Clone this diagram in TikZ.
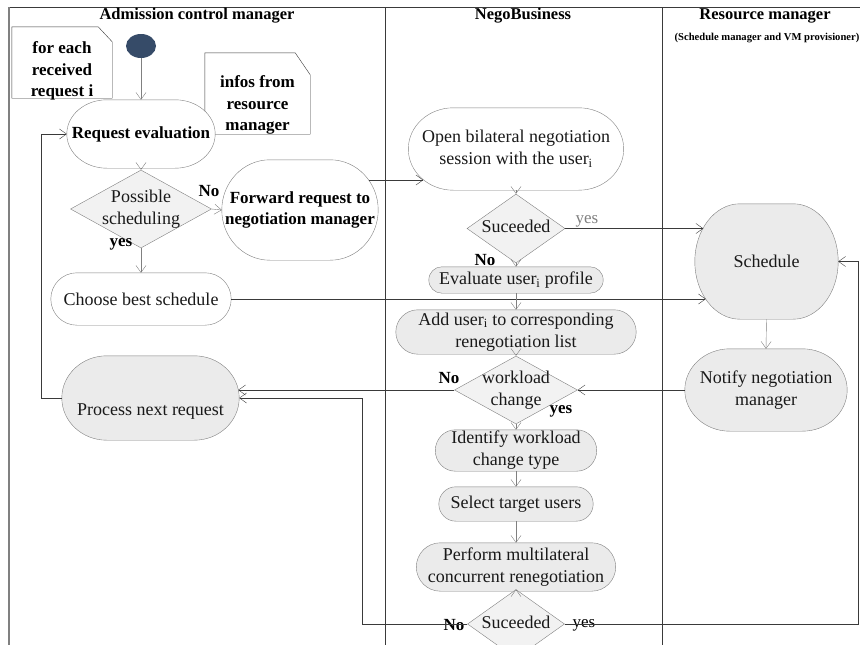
\documentclass[tikz,border=0pt]{standalone}
\usepackage{fontspec}
\setmainfont{Liberation Serif}
\usetikzlibrary{arrows.meta,calc,shapes.geometric,backgrounds}

\definecolor{edgegray}{HTML}{808080}
\definecolor{boxgray}{HTML}{EBEBEB}
\definecolor{diagray}{HTML}{F2F2F2}
\definecolor{linedark}{HTML}{3A3A3A}
\definecolor{startblue}{HTML}{364B68}

% text lines whose box takes no height, so that shapes keep their set size
\newcommand{\lowered}[2]{\raisebox{#1}[0pt][0pt]{\begin{tabular}{@{}c@{}}#2\end{tabular}}}

% rounded box with elliptical corners around a named node
\newcommand{\ovalbox}[3]{%
  \path[draw=edgegray, fill=#3] let \p1=(#1.north west), \p2=(#1.south east) in
    (\x1+#2pt,\y1) -- (\x2-#2pt,\y1)
    arc[start angle=90, end angle=-90, x radius=#2pt, y radius={(\y1-\y2)/2}]
    -- (\x1+#2pt,\y2)
    arc[start angle=270, end angle=90, x radius=#2pt, y radius={(\y1-\y2)/2}] -- cycle;}

% note with a cut top-right corner around a named node
\newcommand{\notebox}[3]{%
  \path[draw=linedark, fill=white] (#1.north west) -- ([xshift=-#2pt]#1.north east)
    -- ([yshift=-#3pt]#1.north east) -- (#1.south east) -- (#1.south west) -- cycle;}

\tikzset{
  txt/.style={font=\fontsize{18}{22}\selectfont, align=center, text=black!90},
  btxt/.style={font=\fontsize{17}{21.5}\selectfont\bfseries, align=center, text=black},
  hdr/.style={font=\fontsize{16.5}{20}\selectfont\bfseries, inner sep=0pt},
  act/.style={rectangle, inner sep=0pt, txt},
  dec/.style={diamond, draw=edgegray, fill=diagray, inner sep=0pt, txt},
  flow/.style={draw=edgegray, -{Straight Barb[length=7pt,width=10pt]}},
  link/.style={draw=linedark, -{Straight Barb[length=7pt,width=10pt]}},
  lbl/.style={font=\fontsize{17}{20}\selectfont\bfseries, inner sep=0pt},
  lbln/.style={font=\fontsize{17}{20}\selectfont, inner sep=0pt},
}

\begin{document}
\begin{tikzpicture}[x=1pt,y=-1pt]
\useasboundingbox (0,0) rectangle (860,645);

% lane titles
\node[hdr] (h1) at (197,16) {Admission control manager};
\node[hdr] (h2) at (523,16) {NegoBusiness};
\node[hdr] (h3) at (765,16) {Resource manager};
\node[font=\fontsize{10.6}{12}\selectfont\bfseries, inner sep=0pt] (h3s) at (767,38)
  {(Schedule manager and VM provisioner)};

% notes
\node[btxt, minimum width=100pt, minimum height=71pt, inner sep=0pt] (n1) at (62,62.5)
  {\lowered{-13pt}{for each\\received\\request i}};
\node[btxt, minimum width=105pt, minimum height=81pt, inner sep=0pt] (n2) at (257.5,93.5)
  {\lowered{-16pt}{infos from\\resource\\manager}};

% admission control lane
\node[ellipse, fill=startblue, minimum width=30pt, minimum height=24pt, inner sep=0pt] (start) at (141,46) {};
\node[act, btxt, minimum width=148pt, minimum height=68pt] (req) at (141,134) {Request evaluation};
\node[dec, minimum width=141pt, minimum height=62pt] (poss) at (141,209) {\lowered{-4pt}{Possible\\scheduling}};
\node[act, btxt, minimum width=156pt, minimum height=100pt] (fwd) at (300,210) {Forward request to\\negotiation manager};
\node[act, minimum width=180pt, minimum height=52pt] (choose) at (141,299) {Choose best schedule};
\node[act, minimum width=177pt, minimum height=84pt] (proc) at (150.5,398) {\raisebox{-17pt}[0pt][0pt]{Process next request}};

% negotiation lane
\node[act, minimum width=215pt, minimum height=82pt] (open) at (516,149) {Open bilateral negotiation\\session with the user\textsubscript{i}};
\node[dec, minimum width=98pt, minimum height=49pt] (suc1) at (516,228.5) {\lowered{-4pt}{Suceeded}};
\node[act, minimum width=174pt, minimum height=26pt] (eval) at (516,280) {Evaluate user\textsubscript{i} profile};
\node[act, minimum width=240pt, minimum height=44pt] (add) at (516,332) {Add user\textsubscript{i} to corresponding\\renegotiation list};
\node[dec, minimum width=123pt, minimum height=50pt] (wl) at (516,390) {\lowered{-4pt}{workload\\change}};
\node[act, minimum width=161pt, minimum height=41pt] (ident) at (516,450.5) {Identify workload\\change type};
\node[act, minimum width=154pt, minimum height=34pt] (select) at (516,504) {Select target users};
\node[act, minimum width=199pt, minimum height=48pt] (perf) at (516,567) {Perform multilateral\\concurrent renegotiation};
\node[dec, minimum width=97pt, minimum height=39pt] (suc2) at (516,624) {\lowered{-4pt}{Suceeded}};

% resource lane
\node[act, minimum width=143pt, minimum height=115pt] (sched) at (766.5,261.5) {Schedule};
\node[act, minimum width=162pt, minimum height=82pt] (notify) at (766,390) {Notify negotiation\\manager};

% decision labels
\node[lbl] (lNo1) at (209,191) {No};
\node[lbl] (lYes1) at (121,244) {yes};
\node[lbln, text=edgegray] (lYes2) at (587,221) {yes};
\node[lbl] (lNo2) at (485,260) {No};
\node[lbl] (lNo3) at (449,378) {No};
\node[lbl] (lYes3) at (561,411) {yes};
\node[lbl] (lNo4) at (454,625) {No};
\node[lbln] (lYes4) at (584,625) {yes};

\begin{scope}[on background layer]
  % swimlane frame
  \draw[linedark] (9,7) -- (860,7);
  \draw[edgegray, line width=2pt] (9,7) -- (9,645);
  \draw[linedark] (385,7) -- (385,645);
  \draw[linedark] (662,7) -- (662,645);
  % notes
  \notebox{n1}{14}{15}
  \notebox{n2}{15}{22}
  % activity outlines
  \ovalbox{req}{40}{white}
  \ovalbox{fwd}{48}{white}
  \ovalbox{choose}{26}{white}
  \ovalbox{proc}{45}{boxgray}
  \ovalbox{open}{45}{white}
  \ovalbox{eval}{13}{boxgray}
  \ovalbox{add}{22}{boxgray}
  \ovalbox{ident}{20}{boxgray}
  \ovalbox{select}{17}{boxgray}
  \ovalbox{perf}{24}{boxgray}
  \ovalbox{sched}{45}{boxgray}
  \ovalbox{notify}{45}{boxgray}
\end{scope}

% connectors
\draw[flow] (start.south) -- (req.north);
\draw[flow] (req.south) -- (poss.north);
\draw[flow] (poss.east) -- (fwd.west);
\draw[flow] (poss.south) -- (choose.north);
\draw[link] ($(fwd.east)+(-9,-30)$) -- ($(open.west)+(15,31)$);
\draw[flow] (open.south) -- (suc1.north);
\draw[link] (suc1.east) -- ($(sched.west)+(8.5,-33)$);
\draw[flow] (suc1.south) -- (eval.north);
\draw[link] (choose.east) -- ($(sched.west)+(11,37.5)$);
\draw[flow] (eval.south) -- (add.north);
\draw[flow] (add.south) -- (wl.north);
\draw[link] (notify.west) -- (wl.east);
\draw[link] (wl.west) -- ($(proc.east)+(-1,-8)$);
\draw[flow] (wl.south) -- (ident.north);
\draw[flow] (ident.south) -- (select.north);
\draw[flow] (select.south) -- (perf.north);
\draw[flow] (perf.south) -- (suc2.north);
\draw[link] (suc2.west) -| ([xshift=123pt]proc.east) -- (proc.east);
\draw[link] (suc2.east) -| ([xshift=20pt]sched.east) -- (sched.east);
\draw[link] (proc.west) -- ++(-21,0) |- (req.west);
\draw[flow] (sched.south) -- (notify.north);
\end{tikzpicture}
\end{document}
